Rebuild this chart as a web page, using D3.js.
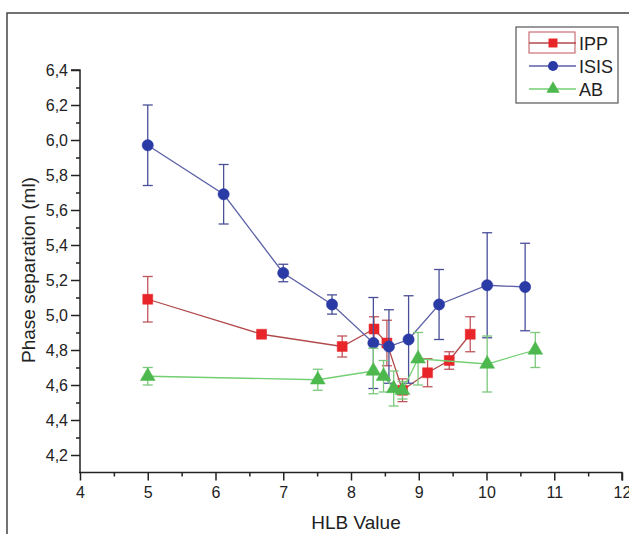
<!DOCTYPE html>
<html>
<head>
<meta charset="utf-8">
<script src="https://cdn.jsdelivr.net/npm/d3@7"></script>
<style>
  html, body { margin: 0; padding: 0; background: #fff; }
  svg { display: block; }
  text { font-family: Arial, "Liberation Sans", sans-serif; fill: #222; }
</style>
</head>
<body>
<svg id="chart" width="629" height="534"></svg>
<script>
// ---- data ----
const hlbIPP = [5.0, 6.68, 7.87, 8.34, 8.53, 8.76, 9.13, 9.45, 9.76];
const valIPP = [5.09, 4.89, 4.82, 4.92, 4.84, 4.57, 4.67, 4.74, 4.89];
const errIPP = [0.13, 0.01, 0.06, 0.07, 0.13, 0.065, 0.08, 0.05, 0.10];

const hlbISIS = [5.0, 6.12, 7.0, 7.72, 8.33, 8.56, 8.85, 9.3, 10.01, 10.57];
const valISIS = [5.97, 5.69, 5.24, 5.06, 4.84, 4.82, 4.86, 5.06, 5.17, 5.16];
const errISIS = [0.23, 0.17, 0.05, 0.055, 0.26, 0.21, 0.25, 0.20, 0.30, 0.25];

const hlbAB = [5.0, 7.51, 8.33, 8.48, 8.63, 8.76, 8.99, 10.01, 10.72];
const valAB = [4.65, 4.63, 4.68, 4.65, 4.58, 4.57, 4.75, 4.72, 4.80];
const errAB = [0.05, 0.06, 0.13, 0.09, 0.10, 0.05, 0.15, 0.16, 0.10];

const seriesNames = ["IPP", "ISIS", "AB"];
const xTicks = [4, 5, 6, 7, 8, 9, 10, 11, 12];
const yTicks = [4.2, 4.4, 4.6, 4.8, 5.0, 5.2, 5.4, 5.6, 5.8, 6.0, 6.2, 6.4];
const xTitle = "HLB Value";
const yTitle = "Phase separation (ml)";

// ---- layout ----
const svg = d3.select("#chart");
const x = d3.scaleLinear().domain([4, 12]).range([80, 622]);
const y = d3.scaleLinear().domain([4.1, 6.4]).range([472.5, 70]);

// outer frame
svg.append("rect").attr("x", 7).attr("y", 13).attr("width", 640).attr("height", 560)
  .attr("fill", "none").attr("stroke", "#444").attr("stroke-width", 1.5);

const styles = {
  IPP:  { marker: "#e8262a", line: "#b24a4c", err: "#c0555a", shape: d3.symbolSquare, size: 100 },
  ISIS: { marker: "#2b3ba6", line: "#5c60a6", err: "#4a4f98", shape: d3.symbolCircle, size: 100 },
  AB:   { marker: "#4db84d", line: "#72cf72", err: "#7cc87c", shape: d3.symbolTriangle, size: 95 }
};

// axes
const fmt = d => d3.format(".1f")(d).replace(".", ",");
const xAxis = d3.axisBottom(x).tickValues(xTicks).tickSize(8).tickPadding(6).tickFormat(d3.format("d"));
const xMinor = d3.axisBottom(x).tickValues(d3.range(4.5, 12, 1)).tickSize(4).tickFormat("");
const yAxis = d3.axisLeft(y).tickValues(yTicks).tickSize(9).tickPadding(3).tickFormat(fmt);
const yMinor = d3.axisLeft(y).tickValues(d3.range(4.3, 6.4, 0.2)).tickSize(4).tickFormat("");

function styleAxis(g) {
  g.select(".domain").attr("stroke", "#222").attr("stroke-width", 1.5);
  g.selectAll(".tick line").attr("stroke", "#222").attr("stroke-width", 1.5);
  g.selectAll(".tick text").attr("font-size", 16).attr("fill", "#222")
    .attr("font-family", "Arial, 'Liberation Sans', sans-serif");
}
const gx = svg.append("g").attr("transform", "translate(0,472.5)").call(xAxis).call(styleAxis);
svg.append("g").attr("transform", "translate(0,472.5)").call(xMinor).call(styleAxis).select(".domain").remove();
const gy = svg.append("g").attr("transform", "translate(80,0)").call(yAxis).call(styleAxis);
svg.append("g").attr("transform", "translate(80,0)").call(yMinor).call(styleAxis).select(".domain").remove();
gx.select(".domain").attr("d", `M${x(4) - 1},0H${x(12)}V8`);
gy.select(".domain").attr("d", `M-9,${y(6.4)}H0V${y(4.1)}`);

// titles
svg.append("text").attr("x", 356).attr("y", 529).attr("text-anchor", "middle")
  .attr("font-size", 19).text(xTitle);
svg.append("text").attr("transform", "translate(35,270) rotate(-90)").attr("text-anchor", "middle")
  .attr("font-size", 19).text(yTitle);

// series
const allSeries = [
  { name: "IPP", xs: hlbIPP, vs: valIPP, es: errIPP },
  { name: "ISIS", xs: hlbISIS, vs: valISIS, es: errISIS },
  { name: "AB", xs: hlbAB, vs: valAB, es: errAB }
];
const line = d3.line().x(d => x(d.x)).y(d => y(d.v));
allSeries.forEach(s => {
  const st = styles[s.name];
  const pts = s.xs.map((xv, i) => ({ x: xv, v: s.vs[i], e: s.es[i] }));
  const g = svg.append("g");
  g.append("path").datum(pts).attr("d", line).attr("fill", "none")
    .attr("stroke", st.line).attr("stroke-width", 1.3);
  const eb = g.selectAll(".eb").data(pts).enter().append("g").attr("stroke", st.err).attr("stroke-width", 1.3);
  eb.append("line").attr("x1", d => x(d.x)).attr("x2", d => x(d.x))
    .attr("y1", d => y(d.v + d.e)).attr("y2", d => y(d.v - d.e));
  eb.append("line").attr("x1", d => x(d.x) - 5).attr("x2", d => x(d.x) + 5)
    .attr("y1", d => y(d.v + d.e)).attr("y2", d => y(d.v + d.e));
  eb.append("line").attr("x1", d => x(d.x) - 5).attr("x2", d => x(d.x) + 5)
    .attr("y1", d => y(d.v - d.e)).attr("y2", d => y(d.v - d.e));
  g.selectAll(".m").data(pts).enter().append("path")
    .attr("d", d3.symbol().type(st.shape).size(st.size))
    .attr("transform", d => `translate(${x(d.x)},${y(d.v)})`)
    .attr("fill", st.marker).attr("stroke", st.marker).attr("stroke-width", 0.5);
});

// legend
const lg = svg.append("g");
lg.append("rect").attr("x", 516).attr("y", 27).attr("width", 102).attr("height", 76)
  .attr("fill", "#fff").attr("stroke", "#555").attr("stroke-width", 1.2);
lg.append("rect").attr("x", 529).attr("y", 32).attr("width", 46).attr("height", 21)
  .attr("fill", "none").attr("stroke", "#c0555a").attr("stroke-width", 1);
seriesNames.forEach((n, i) => {
  const st = styles[n];
  const cy = 43 + i * 23;
  lg.append("line").attr("x1", 529).attr("x2", 576).attr("y1", cy).attr("y2", cy)
    .attr("stroke", st.line).attr("stroke-width", 1.3);
  lg.append("path").attr("d", d3.symbol().type(st.shape).size(st.size * 0.8))
    .attr("transform", `translate(553,${cy})`).attr("fill", st.marker);
  lg.append("text").attr("x", 579).attr("y", cy + 6.5).attr("font-size", 18).text(n);
});
</script>
</body>
</html>
